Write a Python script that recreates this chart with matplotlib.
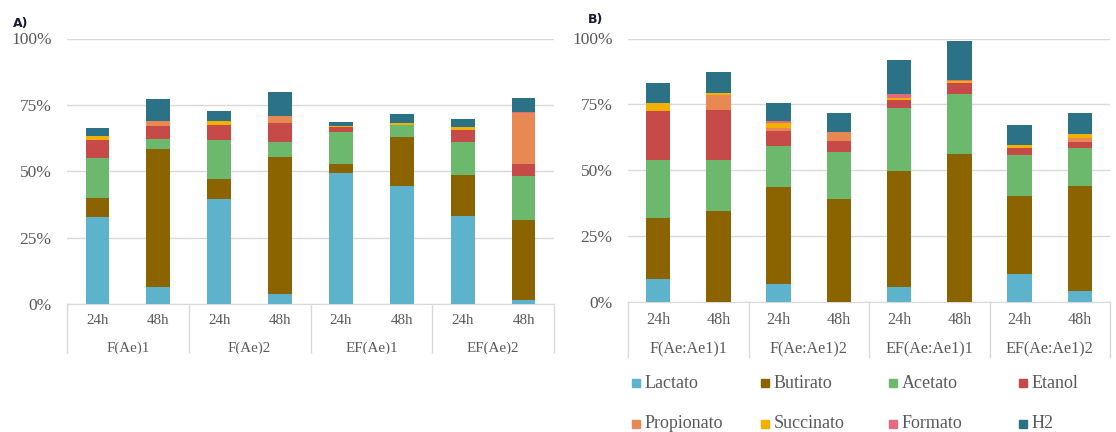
import matplotlib
matplotlib.use("Agg")
import matplotlib.pyplot as plt
import matplotlib.transforms as mtransforms
from matplotlib.patches import Rectangle
import numpy as np

# series order (bottom to top)
series = ['Lactato', 'Butirato', 'Acetato', 'Etanol',
          'Propionato', 'Succinato', 'Formato', 'H2']
colors = ['#5EB3CC', '#8B6400', '#6CB86D', '#C54A48',
          '#E88853', '#F2B000', '#E56A7C', '#2B7287']

times = ['24h', '48h']

# panel A, values in % (8 bars: 24h/48h per group)
groups_a = ['F(Ae)1', 'F(Ae)2', 'EF(Ae)1', 'EF(Ae)2']
lactato_a    = [32.8, 6.4, 39.6, 3.9, 49.3, 44.3, 33.3, 1.5]
butirato_a   = [7.3, 51.8, 7.6, 51.6, 3.3, 18.5, 15.1, 30.2]
acetato_a    = [14.9, 3.9, 14.7, 5.5, 12.3, 4.6, 12.5, 16.5]
etanol_a     = [6.8, 5.1, 5.6, 7.1, 1.6, 0.0, 4.8, 4.6]
propionato_a = [0.0, 1.9, 0.0, 2.8, 0.0, 0.0, 0.0, 19.0]
succinato_a  = [1.6, 0.0, 1.6, 0.0, 0.7, 0.7, 1.0, 0.0]
formato_a    = [0.0, 0.0, 0.0, 0.0, 0.0, 0.0, 0.0, 0.4]
h2_a         = [2.9, 8.1, 3.6, 9.1, 1.5, 3.5, 3.0, 5.3]

# panel B
groups_b = ['F(Ae:Ae1)1', 'F(Ae:Ae1)2', 'EF(Ae:Ae1)1', 'EF(Ae:Ae1)2']
lactato_b    = [8.9, 0.0, 7.0, 0.0, 5.7, 0.0, 10.8, 4.3]
butirato_b   = [23.1, 34.7, 36.7, 39.1, 44.0, 56.2, 29.6, 39.6]
acetato_b    = [21.8, 19.1, 15.4, 17.7, 23.8, 22.8, 15.5, 14.5]
etanol_b     = [18.5, 18.9, 5.7, 4.3, 3.2, 4.0, 2.5, 2.2]
propionato_b = [0.0, 5.8, 1.4, 3.6, 0.0, 0.0, 0.0, 1.8]
succinato_b  = [3.3, 1.0, 1.9, 0.0, 0.8, 0.9, 1.1, 1.4]
formato_b    = [0.0, 0.0, 0.6, 0.0, 1.5, 0.3, 0.0, 0.0]
h2_b         = [7.7, 7.8, 6.7, 6.9, 12.8, 14.9, 7.5, 8.1]

data_a = [lactato_a, butirato_a, acetato_a, etanol_a,
          propionato_a, succinato_a, formato_a, h2_a]
data_b = [lactato_b, butirato_b, acetato_b, etanol_b,
          propionato_b, succinato_b, formato_b, h2_b]

W, H = 1116, 432
TXT = '#595959'
GRID = '#D9D9D9'
SERIF = 'Liberation Serif'

fig = plt.figure(figsize=(W / 100, H / 100), dpi=100)


def px_axes(x0, y0, x1, y1):
    # pixel box (top-left origin) -> figure fraction
    return fig.add_axes([x0 / W, 1 - y1 / H, (x1 - x0) / W, (y1 - y0) / H])


def draw_panel(ax, data, groups, width, ytick_size, xtick_size, grp_off, sep_len):
    x = np.arange(8)
    bottom = np.zeros(8)
    for vals, c in zip(data, colors):
        v = np.array(vals) / 100
        ax.bar(x, v, width, bottom=bottom, color=c, linewidth=0, zorder=3)
        bottom += v
    ax.set_xlim(-0.5, 7.5)
    ax.set_ylim(0, 1)
    ax.set_yticks([0, 0.25, 0.5, 0.75, 1.0])
    ax.set_yticklabels(['0%', '25%', '50%', '75%', '100%'])
    ax.yaxis.grid(True, color=GRID, linewidth=1, zorder=0)
    for s in ['top', 'right', 'left']:
        ax.spines[s].set_visible(False)
    ax.spines['bottom'].set_color(GRID)
    ax.tick_params(axis='y', length=0, pad=11, labelsize=ytick_size,
                   labelcolor=TXT)
    ax.tick_params(axis='x', length=0, pad=7, labelsize=xtick_size,
                   labelcolor=TXT)
    ax.set_xticks(x)
    ax.set_xticklabels(times * 4)
    for lab in ax.get_xticklabels() + ax.get_yticklabels():
        lab.set_family(SERIF)

    trans = mtransforms.blended_transform_factory(ax.transData, ax.transAxes)
    for b in [-0.5, 1.5, 3.5, 5.5, 7.5]:
        ax.plot([b, b], [0, -sep_len], color=GRID, lw=1, transform=trans,
                clip_on=False)
    for i, g in enumerate(groups):
        ax.annotate(g, xy=(2 * i + 0.5, 0), xycoords=trans,
                    xytext=(0, grp_off), textcoords='offset pixels',
                    ha='center', va='baseline', fontsize=xtick_size,
                    color=TXT, family=SERIF, annotation_clip=False)


ax_a = px_axes(67, 38.5, 554, 304)
draw_panel(ax_a, data_a, groups_a, 0.39, 12.5, 10.8, -48, 0.185)

ax_b = px_axes(628, 38.5, 1110, 302)
draw_panel(ax_b, data_b, groups_b, 0.41, 12.5, 11.6, -51, 0.21)

# panel A image is cropped just under its group labels
fig.patches.append(Rectangle((0, 1 - 372 / H), 575 / W, 18 / H,
                             transform=fig.transFigure, color='white',
                             zorder=10, figure=fig))

fig.text(13 / W, 1 - 23 / H, 'A)', fontsize=9, fontweight='bold',
         color='#1A1A33', va='center', ha='left', family='DejaVu Sans')
fig.text(588 / W, 1 - 20 / H, 'B)', fontsize=9, fontweight='bold',
         color='#1A1A33', va='center', ha='left', family='DejaVu Sans')

# legend (Excel-style, 4 columns x 2 rows)
col_x = [632, 761, 889, 1019]
row_y = [383, 424]
for i, (name, c) in enumerate(zip(series, colors)):
    cx = col_x[i % 4]
    cy = row_y[i // 4]
    fig.patches.append(Rectangle((cx / W, 1 - (cy + 4) / H), 8 / W, 8 / H,
                                 transform=fig.transFigure, color=c,
                                 figure=fig))
    fig.text((cx + 13) / W, 1 - cy / H, name, fontsize=13, color=TXT,
             family=SERIF, va='center', ha='left')

fig.savefig('out.png', dpi=100, facecolor='white')
